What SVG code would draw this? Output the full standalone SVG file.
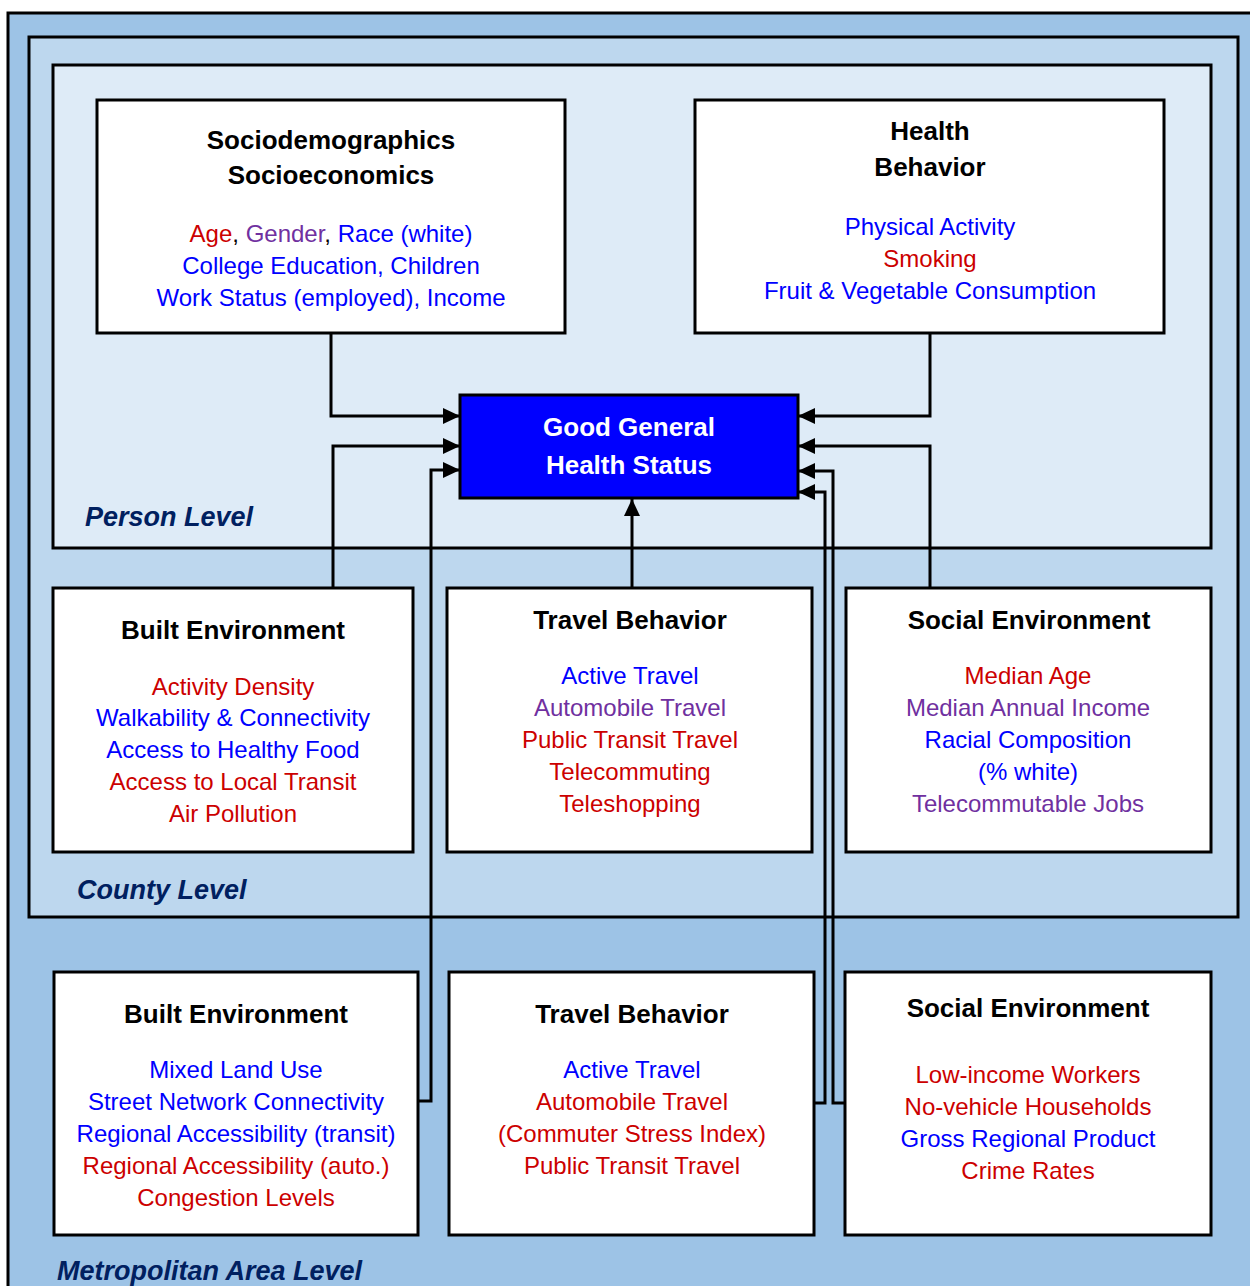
<svg xmlns="http://www.w3.org/2000/svg" width="1250" height="1286" viewBox="0 0 1250 1286">
<style>
.frame{stroke:#000;stroke-width:3}
.box{fill:#fff;stroke:#000;stroke-width:3}
.t{font-family:"Liberation Sans",Arial,sans-serif;font-size:26px;font-weight:bold;text-anchor:middle;fill:#000}
.c{font-family:"Liberation Sans",Arial,sans-serif;font-size:24px;text-anchor:middle}
.lvl{font-family:"Liberation Sans",Arial,sans-serif;font-size:27px;font-weight:bold;font-style:italic;fill:#002060}
.r{fill:#CC0000}.p{fill:#7030A0}.b{fill:#0000FF}.k{fill:#000}
.conn{fill:none;stroke:#000;stroke-width:3;marker-end:url(#ah)}
</style>
<defs>
<marker id="ah" markerUnits="userSpaceOnUse" markerWidth="18" markerHeight="18" viewBox="0 0 18 18" refX="17" refY="9" orient="auto">
<path d="M0,1 L17,9 L0,17 Z" fill="#000"/>
</marker>
</defs>
<rect width="1250" height="1286" fill="#fff"/>
<g id="metro-level">
<rect class="frame" x="8" y="13" width="1262" height="1300" fill="#9DC3E6"/>
<text class="lvl" x="57" y="1280">Metropolitan Area Level</text>
</g>
<g id="county-level">
<rect class="frame" x="29" y="37" width="1209" height="880" fill="#BDD7EE"/>
<text class="lvl" x="77" y="899">County Level</text>
</g>
<g id="person-level">
<rect class="frame" x="53" y="65" width="1158" height="483" fill="#DEEBF7"/>
<text class="lvl" x="85" y="526">Person Level</text>
</g>
<g id="connectors">
<path class="conn" d="M331,333 V416 H460"/>
<path class="conn" d="M930,333 V416 H798"/>
<path class="conn" d="M333,588 V446 H460"/>
<path class="conn" d="M632,588 V499"/>
<path class="conn" d="M930,588 V446 H798"/>
<path class="conn" d="M418,1101 H431 V470 H460"/>
<path class="conn" d="M814,1103 H825 V492 H798"/>
<path class="conn" d="M845,1103 H833 V471 H798"/>
</g>
<g id="sociodemographics">
<rect class="box" x="97" y="100" width="468" height="233"/>
<text class="t" x="331" y="149">Sociodemographics</text>
<text class="t" x="331" y="184">Socioeconomics</text>
<text class="c" x="331" y="242"><tspan class="r">Age</tspan><tspan class="k">, </tspan><tspan class="p">Gender</tspan><tspan class="k">, </tspan><tspan class="b">Race (white)</tspan></text>
<text class="c b" x="331" y="274">College Education, Children</text>
<text class="c b" x="331" y="306">Work Status (employed), Income</text>
</g>
<g id="health-behavior">
<rect class="box" x="695" y="100" width="469" height="233"/>
<text class="t" x="930" y="140">Health</text>
<text class="t" x="930" y="176">Behavior</text>
<text class="c b" x="930" y="235">Physical Activity</text>
<text class="c r" x="930" y="267">Smoking</text>
<text class="c b" x="930" y="299">Fruit &amp; Vegetable Consumption</text>
</g>
<g id="good-health">
<rect x="460" y="395" width="338" height="103" fill="#0000FF" stroke="#000" stroke-width="3"/>
<text class="t" x="629" y="436" fill="#fff" style="fill:#fff">Good General</text>
<text class="t" x="629" y="474" style="fill:#fff">Health Status</text>
</g>
<g id="built-county">
<rect class="box" x="53" y="588" width="360" height="264"/>
<text class="t" x="233" y="639">Built Environment</text>
<text class="c r" x="233" y="695">Activity Density</text>
<text class="c b" x="233" y="726">Walkability &amp; Connectivity</text>
<text class="c b" x="233" y="758">Access to Healthy Food</text>
<text class="c r" x="233" y="790">Access to Local Transit</text>
<text class="c r" x="233" y="822">Air Pollution</text>
</g>
<g id="travel-county">
<rect class="box" x="447" y="588" width="365" height="264"/>
<text class="t" x="630" y="629">Travel Behavior</text>
<text class="c b" x="630" y="684">Active Travel</text>
<text class="c p" x="630" y="716">Automobile Travel</text>
<text class="c r" x="630" y="748">Public Transit Travel</text>
<text class="c r" x="630" y="780">Telecommuting</text>
<text class="c r" x="630" y="812">Teleshopping</text>
</g>
<g id="social-county">
<rect class="box" x="846" y="588" width="365" height="264"/>
<text class="t" x="1029" y="629">Social Environment</text>
<text class="c r" x="1028" y="684">Median Age</text>
<text class="c p" x="1028" y="716">Median Annual Income</text>
<text class="c b" x="1028" y="748">Racial Composition</text>
<text class="c b" x="1028" y="780">(% white)</text>
<text class="c p" x="1028" y="812">Telecommutable Jobs</text>
</g>
<g id="built-metro">
<rect class="box" x="54" y="972" width="364" height="263"/>
<text class="t" x="236" y="1023">Built Environment</text>
<text class="c b" x="236" y="1078">Mixed Land Use</text>
<text class="c b" x="236" y="1110">Street Network Connectivity</text>
<text class="c b" x="236" y="1142">Regional Accessibility (transit)</text>
<text class="c r" x="236" y="1174">Regional Accessibility (auto.)</text>
<text class="c r" x="236" y="1206">Congestion Levels</text>
</g>
<g id="travel-metro">
<rect class="box" x="449" y="972" width="365" height="263"/>
<text class="t" x="632" y="1023">Travel Behavior</text>
<text class="c b" x="632" y="1078">Active Travel</text>
<text class="c r" x="632" y="1110">Automobile Travel</text>
<text class="c r" x="632" y="1142">(Commuter Stress Index)</text>
<text class="c r" x="632" y="1174">Public Transit Travel</text>
</g>
<g id="social-metro">
<rect class="box" x="845" y="972" width="366" height="263"/>
<text class="t" x="1028" y="1017">Social Environment</text>
<text class="c r" x="1028" y="1083">Low-income Workers</text>
<text class="c r" x="1028" y="1115">No-vehicle Households</text>
<text class="c b" x="1028" y="1147">Gross Regional Product</text>
<text class="c r" x="1028" y="1179">Crime Rates</text>
</g>
</svg>
